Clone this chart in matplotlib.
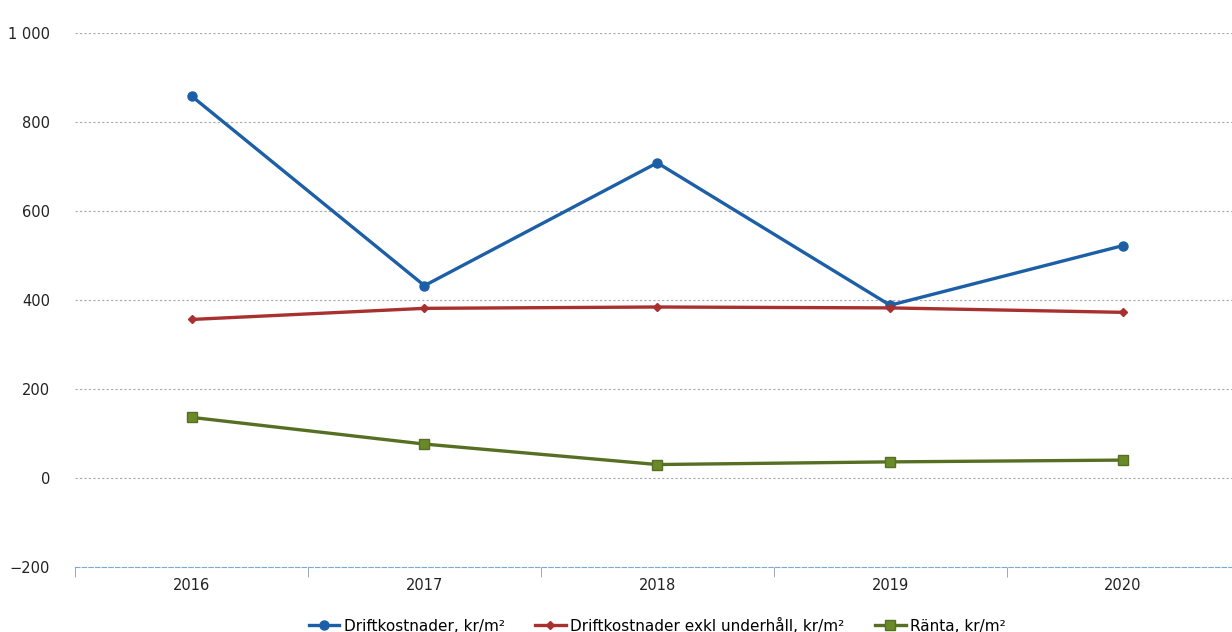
import matplotlib.pyplot as plt

years = ['2016', '2017', '2018', '2019', '2020']
drift = [858, 432, 708, 388, 522]
drift_exkl = [356, 381, 384, 382, 372]
ranta = [136, 76, 30, 36, 40]

labels = ['Driftkostnader, kr/m²',
          'Driftkostnader exkl underhåll, kr/m²',
          'Ränta, kr/m²']

fig = plt.figure(figsize=(12.32, 6.32), dpi=100)
ax = fig.add_axes([0.061, 0.103, 0.945, 0.845])

x = range(len(years))
ax.plot(x, drift, color='#1c5fa6', lw=2.4, marker='o', ms=6.5, label=labels[0])
ax.plot(x, drift_exkl, color='#a8302e', lw=2.4, marker='D', ms=4, label=labels[1])
ax.plot(x, ranta, color='#566f22', lw=2.4, marker='s', ms=6.5,
        markerfacecolor='#6a8a2a', label=labels[2])

ax.set_ylim(-200, 1000)
ax.set_yticks(range(-200, 1001, 200))
ax.set_yticklabels(['−200', '0', '200', '400', '600', '800', '1 000'])
ax.set_xlim(-0.5, len(years) - 0.5)
ax.set_xticks(list(x))
ax.set_xticklabels(years)
ax.set_xticks([i - 0.5 for i in range(len(years) + 1)], minor=True)

# light dotted gridlines like the scanned original
for v in range(0, 1001, 200):
    ax.axhline(v, color='#a8a8a8', lw=0.8, ls=(0, (2, 2)), zorder=0)

for s in ['top', 'right', 'left']:
    ax.spines[s].set_visible(False)
ax.spines['bottom'].set_color('#7fa8d0')
ax.spines['bottom'].set_linestyle((0, (4, 2)))
ax.tick_params(axis='x', which='major', length=0, pad=8, labelsize=10.5,
               labelcolor='#222222')
ax.tick_params(axis='x', which='minor', length=7, color='#8a9aaa')
ax.tick_params(axis='y', length=0, pad=18, labelsize=10.5, labelcolor='#222222')

ax.legend(loc='lower center', bbox_to_anchor=(0.5, -0.128), ncol=3,
          frameon=False, fontsize=11, handlelength=2, columnspacing=2,
          handletextpad=0.3, borderaxespad=0, borderpad=0.1)

fig.savefig('out.png')
